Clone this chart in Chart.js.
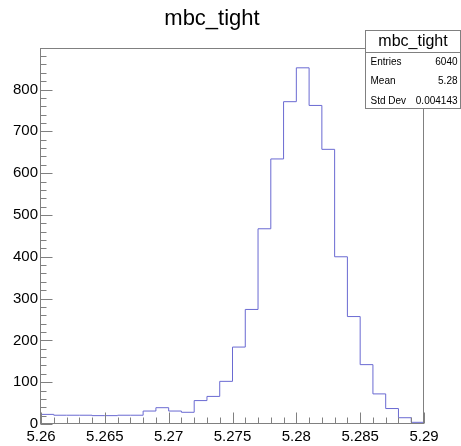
<!DOCTYPE html>
<html>
<head>
<meta charset="utf-8">
<title>mbc_tight</title>
<script src="https://cdn.jsdelivr.net/npm/chart.js@4.4.1/dist/chart.umd.min.js"></script>
<style>
  html, body { margin: 0; padding: 0; background: #fff; }
  #wrap { width: 461px; height: 446px; }
</style>
</head>
<body>
<div id="wrap"><canvas id="mbcChart" width="461" height="446"></canvas></div>
<script>
// mbc_tight histogram: 30 bins between 5.26 and 5.29
const binEdges = [5.260, 5.261, 5.262, 5.263, 5.264, 5.265, 5.266, 5.267, 5.268, 5.269,
                  5.270, 5.271, 5.272, 5.273, 5.274, 5.275, 5.276, 5.277, 5.278, 5.279,
                  5.280, 5.281, 5.282, 5.283, 5.284, 5.285, 5.286, 5.287, 5.288, 5.289, 5.290];
const binCounts = [23, 21, 21, 21, 20, 20, 21, 21, 31, 39,
                   31, 28, 56, 66, 102, 184, 274, 467, 634, 771,
                   852, 762, 657, 400, 257, 142, 72, 37, 15, 4];

const xTicks = [5.26, 5.265, 5.27, 5.275, 5.28, 5.285, 5.29];
const xTickLabels = ['5.26', '5.265', '5.27', '5.275', '5.28', '5.285', '5.29'];
const yTicks = [0, 100, 200, 300, 400, 500, 600, 700, 800];
const yMax = 897;

const histName = 'mbc_tight';
const statsLabels = ['Entries', 'Mean', 'Std Dev'];
const statsValues = ['6040', '5.28', '0.004143'];

const FONT = '"Liberation Sans", Arial, Helvetica, sans-serif';
const LINE_GRAY = '#808080';

// outline of the histogram: point at each bin's left edge, last one closes at 5.29
const outline = [{ x: binEdges[0], y: 0 }];
binCounts.forEach((c, i) => outline.push({ x: binEdges[i], y: c }));
outline.push({ x: binEdges[binEdges.length - 1], y: binCounts[binCounts.length - 1] });
outline.push({ x: binEdges[binEdges.length - 1], y: 0 });

// ROOT style frame, inside ticks and stats box
const rootFrame = {
    id: 'rootFrame',
    afterDraw(chart) {
        const ctx = chart.ctx;
        const a = chart.chartArea;
        const xs = chart.scales.x;
        const ys = chart.scales.y;
        const L = a.left - 0.5, R = a.right - 0.5, T = a.top - 0.5, B = a.bottom - 0.5;
        ctx.save();
        ctx.strokeStyle = LINE_GRAY;
        ctx.lineWidth = 1;
        ctx.strokeRect(L, T, R - L, B - T);

        ctx.beginPath();
        // y ticks
        for (let v = 0; v <= yMax; v += 20) {
            const py = Math.round(ys.getPixelForValue(v)) + 0.5;
            const len = yTicks.includes(v) ? 12 : 6;
            ctx.moveTo(L, py);
            ctx.lineTo(L + len, py);
        }
        // x ticks
        binEdges.forEach(e => {
            const px = Math.round(xs.getPixelForValue(e)) + 0.5;
            const len = xTicks.some(t => Math.abs(t - e) < 1e-9) ? 11 : 6;
            ctx.moveTo(px, B);
            ctx.lineTo(px, B - len);
        });
        ctx.stroke();

        // stats box
        const bx = 365.5, by = 30.5, bw = 95, bh = 78, sep = 52.5;
        ctx.fillStyle = '#fff';
        ctx.fillRect(bx, by, bw, bh);
        ctx.strokeStyle = LINE_GRAY;
        ctx.strokeRect(bx, by, bw, bh);
        ctx.beginPath();
        ctx.moveTo(bx, sep);
        ctx.lineTo(bx + bw, sep);
        ctx.stroke();

        ctx.fillStyle = '#000';
        ctx.textBaseline = 'middle';
        ctx.font = '16px ' + FONT;
        ctx.textAlign = 'center';
        ctx.fillText(histName, bx + bw / 2, 42);
        ctx.font = '10px ' + FONT;
        statsLabels.forEach((lab, i) => {
            const ty = 62 + i * 19.5;
            ctx.textAlign = 'left';
            ctx.fillText(lab, bx + 5, ty);
            ctx.textAlign = 'right';
            ctx.fillText(statsValues[i], bx + bw - 3, ty);
        });
        ctx.restore();
    }
};

const ctx = document.getElementById('mbcChart').getContext('2d');
const chart = new Chart(ctx, {
    type: 'line',
    data: {
        datasets: [{
            label: histName,
            data: outline,
            stepped: 'before',   // horizontal at the previous value, then vertical
            borderColor: '#6a6ad2',
            borderWidth: 1,
            pointRadius: 0,
            fill: false,
            tension: 0
        }]
    },
    options: {
        responsive: false,
        animation: false,
        layout: {
            padding: { left: 0, right: 37, top: 0, bottom: 0 }
        },
        plugins: {
            legend: { display: false },
            tooltip: { enabled: false },
            title: {
                display: true,
                text: histName,
                color: '#000',
                font: { family: FONT, size: 22, weight: 'normal', lineHeight: 1.2 },
                padding: { top: 6, bottom: 16.6 }
            }
        },
        scales: {
            x: {
                type: 'linear',
                min: binEdges[0],
                max: binEdges[binEdges.length - 1],
                afterBuildTicks: s => { s.ticks = xTicks.map(v => ({ value: v })); },
                afterFit: s => { s.height = 22; },
                grid: { display: false, drawTicks: false },
                border: { display: false },
                ticks: {
                    color: '#000',
                    padding: 4,
                    maxRotation: 0,
                    autoSkip: false,
                    font: { family: FONT, size: 15 },
                    callback: (v, i) => xTickLabels[i]
                }
            },
            y: {
                min: 0,
                max: yMax,
                afterBuildTicks: s => { s.ticks = yTicks.map(v => ({ value: v })); },
                afterFit: s => { s.width = 41; },
                grid: { display: false, drawTicks: false },
                border: { display: false },
                ticks: {
                    color: '#000',
                    padding: 3,
                    autoSkip: false,
                    font: { family: FONT, size: 15 },
                    callback: v => String(v)
                }
            }
        }
    },
    plugins: [rootFrame]
});
</script>
</body>
</html>
